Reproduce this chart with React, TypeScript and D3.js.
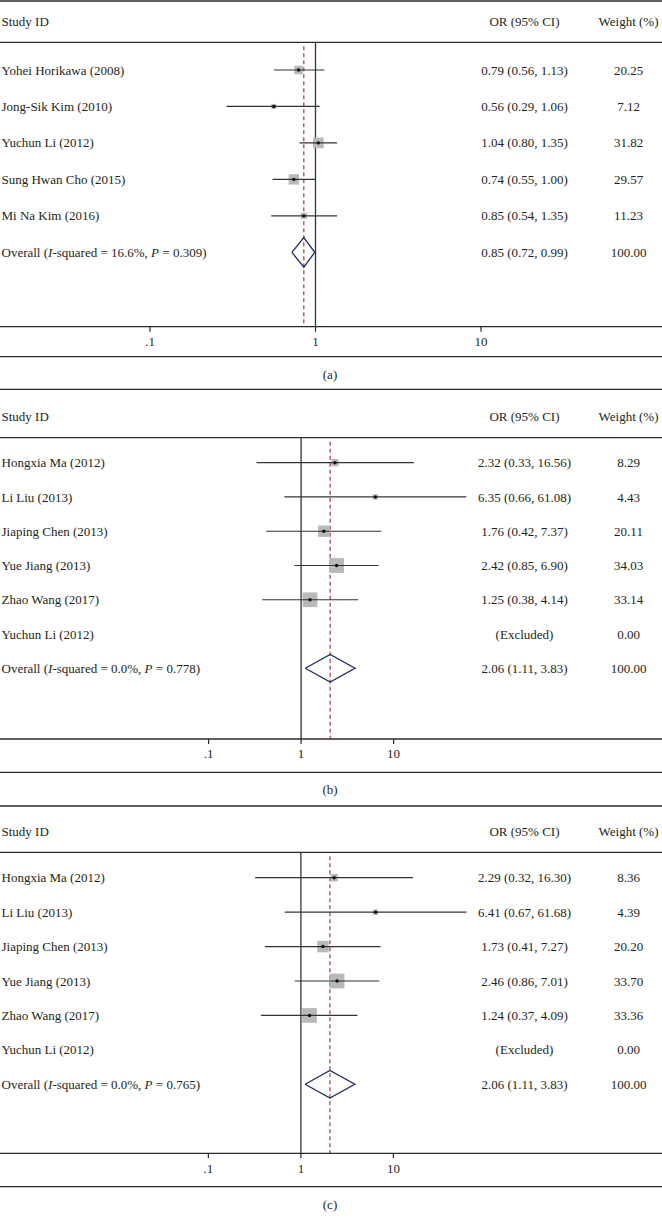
import React from "react";
import * as d3 from "d3";

// ---------- data ----------
const studiesA = ["Yohei Horikawa (2008)", "Jong-Sik Kim (2010)", "Yuchun Li (2012)", "Sung Hwan Cho (2015)", "Mi Na Kim (2016)"];
const orA = [0.79, 0.56, 1.04, 0.74, 0.85];
const lowA = [0.56, 0.29, 0.8, 0.55, 0.54];
const highA = [1.13, 1.06, 1.35, 1.0, 1.35];
const weightA = [20.25, 7.12, 31.82, 29.57, 11.23];
const overallA = [0.85, 0.72, 0.99];
const statsA = ["16.6%", "0.309"];

const studiesB = ["Hongxia Ma (2012)", "Li Liu (2013)", "Jiaping Chen (2013)", "Yue Jiang (2013)", "Zhao Wang (2017)", "Yuchun Li (2012)"];
const orB = [2.32, 6.35, 1.76, 2.42, 1.25, null];
const lowB = [0.33, 0.66, 0.42, 0.85, 0.38, null];
const highB = [16.56, 61.08, 7.37, 6.9, 4.14, null];
const weightB = [8.29, 4.43, 20.11, 34.03, 33.14, 0.0];
const overallB = [2.06, 1.11, 3.83];
const statsB = ["0.0%", "0.778"];

const studiesC = ["Hongxia Ma (2012)", "Li Liu (2013)", "Jiaping Chen (2013)", "Yue Jiang (2013)", "Zhao Wang (2017)", "Yuchun Li (2012)"];
const orC = [2.29, 6.41, 1.73, 2.46, 1.24, null];
const lowC = [0.32, 0.67, 0.41, 0.86, 0.37, null];
const highC = [16.3, 61.68, 7.27, 7.01, 4.09, null];
const weightC = [8.36, 4.39, 20.2, 33.7, 33.36, 0.0];
const overallC = [2.06, 1.11, 3.83];
const statsC = ["0.0%", "0.765"];

const tickValues = [0.1, 1, 10];
const tickLabels = [".1", "1", "10"];
const captions = ["(a)", "(b)", "(c)"];

// ---------- layout ----------
const W = 662;
const H = 1222;
const FONT = "'Liberation Serif', 'DejaVu Serif', serif";
const TEXT = "#231f20";
const LINE = "#2a2a2a";
const fmt = d3.format(".2f");

const panels = [
  {
    studies: studiesA, or: orA, low: lowA, high: highA, weight: weightA, overall: overallA, stats: statsA,
    topLine: 1, studyY: 21, header: 42.3, rows: [70, 252.3], axis: 326.7, tickY: 341.7,
    line1: 356.7, capY: 374.3, line2: 389.3, xr: [150, 481], box: 1.9, dia: 14.8,
  },
  {
    studies: studiesB, or: orB, low: lowB, high: highB, weight: weightB, overall: overallB, stats: statsB,
    topLine: null, studyY: 416, header: 437.7, rows: [462.7, 668.3], axis: 739, tickY: 753.5,
    line1: 772.3, capY: 789.7, line2: 806, xr: [208.6, 393.6], box: 2.55, dia: 13.8,
  },
  {
    studies: studiesC, or: orC, low: lowC, high: highC, weight: weightC, overall: overallC, stats: statsC,
    topLine: null, studyY: 831.7, header: 852.3, rows: [877.7, 1084.3], axis: 1153.3, tickY: 1168.3,
    line1: 1186.7, capY: 1204.3, line2: null, xr: [208.4, 393.4], box: 2.55, dia: 13.8,
  },
];

const OR_X = 524.5;
const WT_X = 628.5;

function Panel({ p, idx }: { p: any; idx: number }) {
  const x = d3.scaleLog().domain([0.1, 10]).range(p.xr);
  const rowKeys = [...p.studies.map((_: string, i: number) => "s" + i), "overall"];
  const y = d3.scalePoint<string>().domain(rowKeys).range(p.rows);
  const oy = y("overall") as number;
  const [oEst, oLow, oHigh] = p.overall;
  const diamond = d3.line()([
    [x(oLow), oy],
    [x(oEst), oy - p.dia],
    [x(oHigh), oy],
    [x(oEst), oy + p.dia],
    [x(oLow), oy],
  ]);
  const hline = (yy: number, key: string) => (
    <line key={key} x1={0} x2={W} y1={yy} y2={yy} stroke={LINE} strokeWidth={1.3} />
  );
  return (
    <g>
      {p.topLine !== null && hline(p.topLine, "top")}
      <text x={1.5} y={p.studyY} dy="0.35em" fontSize={13} fill={TEXT}>Study ID</text>
      <text x={OR_X} y={p.studyY} dy="0.35em" fontSize={13} fill={TEXT} textAnchor="middle">OR (95% CI)</text>
      <text x={WT_X} y={p.studyY} dy="0.35em" fontSize={13} fill={TEXT} textAnchor="middle">Weight (%)</text>
      {hline(p.header, "header")}
      {/* null line */}
      <line x1={x(1)} x2={x(1)} y1={p.header} y2={p.axis} stroke="#333" strokeWidth={1.3} />
      {/* overall dashed line */}
      <line x1={x(oEst)} x2={x(oEst)} y1={p.header + 4} y2={p.axis} stroke="#9c3a40" strokeWidth={1.2} strokeDasharray="4 3" />
      {p.studies.map((s: string, i: number) => {
        const yy = y("s" + i) as number;
        const est = p.or[i];
        const has = est !== null;
        const side = p.box * Math.sqrt(p.weight[i]);
        return (
          <g key={s + i}>
            <text x={1.5} y={yy} dy="0.35em" fontSize={13} fill={TEXT}>{s}</text>
            {has && (
              <>
                <rect x={x(est) - side / 2} y={yy - side / 2} width={side} height={side} fill="#b9b9b9" />
                <line x1={x(p.low[i])} x2={x(p.high[i])} y1={yy} y2={yy} stroke="#333" strokeWidth={1.2} />
                <circle cx={x(est)} cy={yy} r={1.7} fill="#111" />
              </>
            )}
            <text x={OR_X} y={yy} dy="0.35em" fontSize={13} fill={TEXT} textAnchor="middle">
              {has ? `${fmt(est)} (${fmt(p.low[i])}, ${fmt(p.high[i])})` : "(Excluded)"}
            </text>
            <text x={WT_X} y={yy} dy="0.35em" fontSize={13} fill={TEXT} textAnchor="middle">{fmt(p.weight[i])}</text>
          </g>
        );
      })}
      <path d={diamond as string} fill="none" stroke="#1d2b5c" strokeWidth={1.3} />
      <text x={1.5} y={oy} dy="0.35em" fontSize={13} fill={TEXT}>
        Overall (<tspan fontStyle="italic">I</tspan>-squared = {p.stats[0]}, <tspan fontStyle="italic">P</tspan> = {p.stats[1]})
      </text>
      <text x={OR_X} y={oy} dy="0.35em" fontSize={13} fill={TEXT} textAnchor="middle">
        {`${fmt(oEst)} (${fmt(oLow)}, ${fmt(oHigh)})`}
      </text>
      <text x={WT_X} y={oy} dy="0.35em" fontSize={13} fill={TEXT} textAnchor="middle">100.00</text>
      {/* axis */}
      {hline(p.axis, "axis")}
      {tickValues.map((t, i) => (
        <g key={"t" + i}>
          <line x1={x(t)} x2={x(t)} y1={p.axis} y2={p.axis + 5} stroke={LINE} strokeWidth={1.2} />
          <text x={x(t)} y={p.tickY} dy="0.35em" fontSize={13} fill={TEXT} textAnchor="middle">{tickLabels[i]}</text>
        </g>
      ))}
      {hline(p.line1, "l1")}
      <text x={330} y={p.capY} dy="0.35em" fontSize={13} fill={TEXT} textAnchor="middle">{captions[idx]}</text>
      {p.line2 !== null && hline(p.line2, "l2")}
    </g>
  );
}

export default function App() {
  return (
    <svg
      width={W}
      height={H}
      style={{ position: "absolute", left: 0, top: 0, background: "#fff" }}
      fontFamily={FONT}
    >
      <rect width={W} height={H} fill="#fff" />
      {panels.map((p, i) => (
        <Panel key={i} p={p} idx={i} />
      ))}
    </svg>
  );
}
